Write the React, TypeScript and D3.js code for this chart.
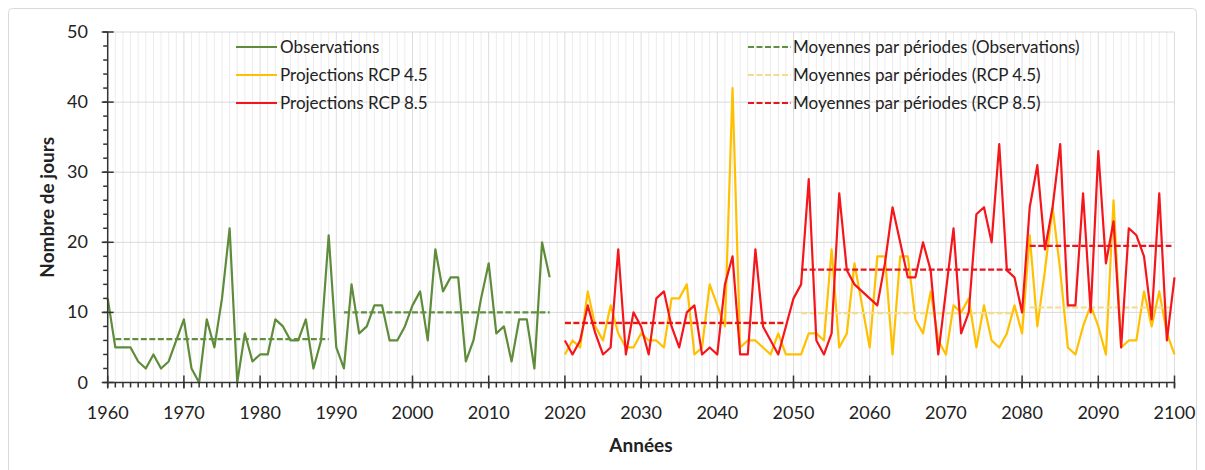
import * as d3 from "d3";

// Nombre de jours par an : observations puis projections
const obsStart = 1960;
const obsValues = [
  12, 5, 5, 5, 3, 2, 4, 2, 3, 6, 9, 2, 0, 9, 5, 12, 22, 0, 7, 3, 4, 4, 9, 8, 6, 6, 9, 2, 6, 21,
  5, 2, 14, 7, 8, 11, 11, 6, 6, 8, 11, 13, 6, 19, 13, 15, 15, 3, 6, 12, 17, 7, 8, 3, 9, 9, 2, 20, 15,
];

const projStart = 2020;
const rcp45Values = [
  4, 6, 5, 13, 8, 6, 11, 7, 5, 5, 7, 6, 6, 5, 12, 12, 14, 4, 5, 14, 11, 8, 42, 5, 6, 6, 5, 4, 7, 4,
  4, 4, 7, 7, 6, 19, 5, 7, 17, 11, 5, 18, 18, 4, 18, 18, 9, 7, 13, 6, 4, 11, 10, 12, 5, 11, 6, 5, 7, 11,
  7, 21, 8, 16, 25, 16, 5, 4, 8, 11, 8, 4, 26, 5, 6, 6, 13, 8, 13, 7, 4,
];
const rcp85Values = [
  6, 4, 6, 11, 7, 4, 5, 19, 4, 10, 8, 4, 12, 13, 8, 5, 10, 11, 4, 5, 4, 14, 18, 4, 4, 19, 8, 6, 4, 8,
  12, 14, 29, 6, 4, 7, 27, 16, 14, 13, 12, 11, 17, 25, 20, 15, 15, 20, 16, 4, 13, 22, 7, 10, 24, 25, 20, 34, 16, 15,
  10, 25, 31, 19, 25, 34, 11, 11, 27, 10, 33, 17, 23, 5, 22, 21, 18, 9, 27, 6, 15,
];

// Moyennes par périodes
const obsMeans = [
  { from: 1961, to: 1989, value: 6.2 },
  { from: 1991, to: 2018, value: 10.0 },
];
const rcp45Means = [
  { from: 2020, to: 2049, value: 8.4 },
  { from: 2051, to: 2079, value: 9.9 },
  { from: 2081, to: 2099.6, value: 10.7 },
];
const rcp85Means = [
  { from: 2020, to: 2049, value: 8.5 },
  { from: 2051, to: 2078.6, value: 16.1 },
  { from: 2081, to: 2099.6, value: 19.5 },
];

const yearLabels = [1960, 1970, 1980, 1990, 2000, 2010, 2020, 2030, 2040, 2050, 2060, 2070, 2080, 2090, 2100];
const dayLabels = [0, 10, 20, 30, 40, 50];

const seriesLabels = ["Observations", "Projections RCP 4.5", "Projections RCP 8.5"];
const meanLabels = [
  "Moyennes par périodes (Observations)",
  "Moyennes par périodes (RCP 4.5)",
  "Moyennes par périodes (RCP 8.5)",
];

const GREEN = "#5e8c3a";
const GOLD = "#ffc000";
const RED = "#f5161b";
const GREEN_MEAN = "#5f9040";
const GOLD_MEAN = "#f3dc8e";
const RED_MEAN = "#e8141e";
const FONT = "Lato, 'Open Sans', sans-serif";

const W = 1205;
const H = 470;
const left = 107.7;
const right = 1174.5;
const top = 32;
const bottom = 382.5;

export default function App() {
  const x = d3.scaleLinear().domain([1960, 2100]).range([left, right]);
  const y = d3.scaleLinear().domain([0, 50]).range([bottom, top]);

  const toPts = (start: number, vals: number[]) => vals.map((v, i) => [start + i, v] as [number, number]);
  const line = d3
    .line<[number, number]>()
    .x((d) => x(d[0]))
    .y((d) => y(d[1]));

  const meanPath = (m: { from: number; to: number; value: number }) =>
    line([
      [m.from, m.value],
      [m.to, m.value],
    ]) as string;

  const allYears = d3.range(1960, 2101);
  const minorDays = d3.range(0, 51, 2);
  const dash = "6,2.5";

  const legendY = [47, 75, 103];
  const seriesColors = [GREEN, GOLD, RED];
  const meanColors = [GREEN_MEAN, GOLD_MEAN, RED_MEAN];

  return (
    <svg
      width={W}
      height={H}
      style={{ position: "absolute", left: 0, top: 0, background: "#fff" }}
      fontFamily={FONT}
    >
      <rect x={8.5} y={8.5} width={1188} height={470} rx={4} fill="#fff" stroke="#d9d9d9" />

      {/* grille */}
      {allYears.map((yr) => (
        <line
          key={"vg" + yr}
          x1={x(yr)}
          x2={x(yr)}
          y1={top}
          y2={bottom}
          stroke={yr % 10 === 0 ? "#dcdcdc" : "#ececec"}
          strokeWidth={1}
        />
      ))}
      {dayLabels.slice(1).map((d) => (
        <line key={"hg" + d} x1={left} x2={right} y1={y(d)} y2={y(d)} stroke="#d9d9d9" strokeWidth={1} />
      ))}

      {/* séries */}
      <g fill="none" strokeLinejoin="round">
        <path d={line(toPts(obsStart, obsValues)) as string} stroke={GREEN} strokeWidth={2.2} />
        {obsMeans.map((m, i) => (
          <path key={"om" + i} d={meanPath(m)} stroke={GREEN_MEAN} strokeWidth={2.2} strokeDasharray={dash} />
        ))}
        <path d={line(toPts(projStart, rcp45Values)) as string} stroke={GOLD} strokeWidth={2.2} />
        {rcp45Means.map((m, i) => (
          <path key={"ym" + i} d={meanPath(m)} stroke={GOLD_MEAN} strokeWidth={2.2} strokeDasharray={dash} />
        ))}
        <path d={line(toPts(projStart, rcp85Values)) as string} stroke={RED} strokeWidth={2.2} />
        {rcp85Means.map((m, i) => (
          <path key={"rm" + i} d={meanPath(m)} stroke={RED_MEAN} strokeWidth={2.2} strokeDasharray={dash} />
        ))}
      </g>

      {/* axe Y */}
      <g stroke="#333" strokeWidth={1.5}>
        <line x1={left} x2={left} y1={top} y2={bottom} />
        {minorDays.map((d) => (
          <line key={"ym" + d} x1={left - 4.5} x2={left} y1={y(d)} y2={y(d)} />
        ))}
        {dayLabels.map((d) => (
          <line key={"yM" + d} x1={left - 6} x2={left + 6} y1={y(d)} y2={y(d)} />
        ))}
      </g>
      {dayLabels.map((d) => (
        <text key={"yl" + d} x={88} y={y(d) + 6} textAnchor="end" fontSize={18} fill="#222">
          {d}
        </text>
      ))}

      {/* axe X */}
      <g stroke="#333" strokeWidth={1.5}>
        <line x1={left} x2={right} y1={bottom} y2={bottom} />
        {allYears.map((yr) => (
          <line key={"xm" + yr} x1={x(yr)} x2={x(yr)} y1={bottom} y2={bottom + 5} />
        ))}
        {yearLabels.map((yr) => (
          <line key={"xM" + yr} x1={x(yr)} x2={x(yr)} y1={bottom - 7} y2={bottom + 6} />
        ))}
      </g>
      {yearLabels.map((yr) => (
        <text key={"xl" + yr} x={x(yr)} y={419} textAnchor="middle" fontSize={18} fill="#222">
          {yr}
        </text>
      ))}

      <text x={641} y={452} textAnchor="middle" fontSize={19} fontWeight="bold" fill="#222">
        Années
      </text>
      <text
        transform={`translate(54, ${(top + bottom) / 2}) rotate(-90)`}
        textAnchor="middle"
        fontSize={19}
        fontWeight="bold"
        fill="#222"
      >
        Nombre de jours
      </text>

      {/* légende */}
      {seriesLabels.map((s, i) => (
        <g key={"ls" + i}>
          <line x1={236} x2={277} y1={legendY[i]} y2={legendY[i]} stroke={seriesColors[i]} strokeWidth={2.2} />
          <text x={280} y={legendY[i] + 6} fontSize={17} fill="#222">
            {s}
          </text>
        </g>
      ))}
      {meanLabels.map((s, i) => (
        <g key={"lm" + i}>
          <line
            x1={748}
            x2={791}
            y1={legendY[i]}
            y2={legendY[i]}
            stroke={meanColors[i]}
            strokeWidth={2.2}
            strokeDasharray={dash}
          />
          <text x={793} y={legendY[i] + 6} fontSize={17} fill="#222">
            {s}
          </text>
        </g>
      ))}
    </svg>
  );
}
